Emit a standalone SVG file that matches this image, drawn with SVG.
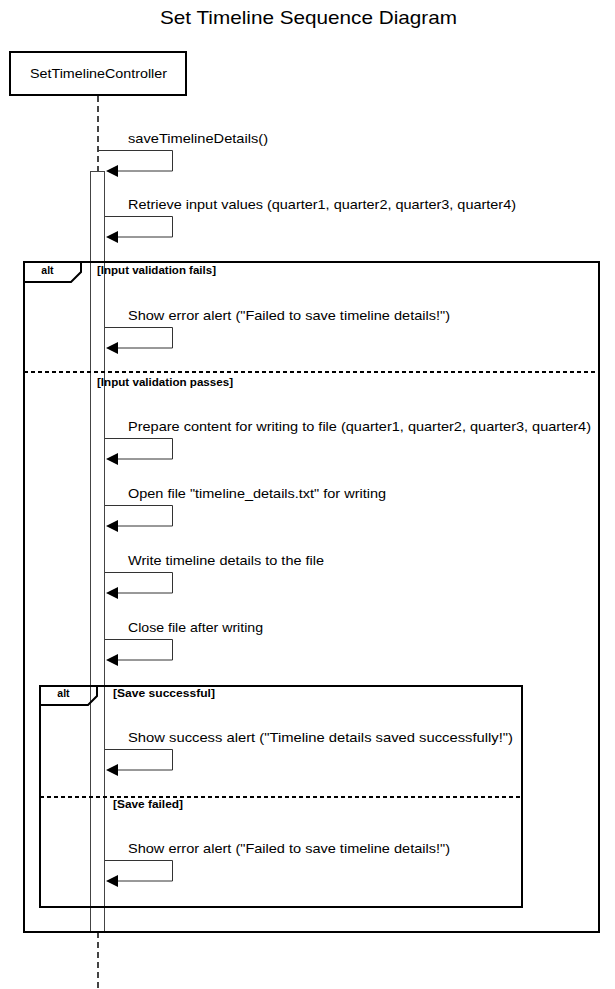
<svg xmlns="http://www.w3.org/2000/svg" width="615" height="989" viewBox="0 0 615 989">
<style>
.title{font-family:"Liberation Sans",Arial,sans-serif;font-size:19px;fill:#000}
.pname{font-family:"Liberation Sans",Arial,sans-serif;font-size:13px;fill:#000}
.msg{font-family:"Liberation Sans",Arial,sans-serif;font-size:13px;fill:#000}
.cond{font-family:"Liberation Sans",Arial,sans-serif;font-size:10.5px;font-weight:bold;fill:#000}
.frame{fill:none;stroke:#000;stroke-width:2}
.div{fill:none;stroke:#000;stroke-width:2;stroke-dasharray:4,3}
.life{fill:none;stroke:#444;stroke-width:2;stroke-dasharray:6,4}
.act{fill:none;stroke:#444;stroke-width:1}
.self{fill:none;stroke:#333;stroke-width:1}
</style>
<defs>
<marker id="arr" viewBox="0 0 12 12" refX="0" refY="6" markerWidth="12" markerHeight="12" markerUnits="userSpaceOnUse" orient="auto">
<path d="M0,0 L12,6 L0,12 Z" fill="#000"/>
</marker>
</defs>
<rect width="615" height="989" fill="#fff"/>
<text class="title" x="160" y="24" textLength="297" lengthAdjust="spacingAndGlyphs">Set Timeline Sequence Diagram</text>
<g id="SetTimelineController">
<rect x="10" y="52" width="176" height="43" fill="#fff" stroke="#000" stroke-width="2"/>
<text class="pname" x="30" y="78" textLength="137" lengthAdjust="spacingAndGlyphs">SetTimelineController</text>
<line class="life" x1="98" y1="96" x2="98" y2="171"/>
<line class="life" x1="98" y1="932" x2="98" y2="989"/>
<rect class="act" x="90.5" y="171.5" width="14" height="760.5"/>
</g>
<g id="alt-outer">
<rect class="frame" x="24" y="262" width="575" height="670"/>
<path class="frame" d="M24,282 L71,282 L81,272 L81,262"/>
<text class="cond" x="47.5" y="274" text-anchor="middle">alt</text>
<text class="cond" x="97" y="274" textLength="119" lengthAdjust="spacingAndGlyphs">[Input validation fails]</text>
<line class="div" x1="24" y1="372" x2="599" y2="372"/>
<text class="cond" x="97" y="386" textLength="136" lengthAdjust="spacingAndGlyphs">[Input validation passes]</text>
</g>
<g id="alt-inner">
<rect class="frame" x="40" y="686" width="482" height="221"/>
<path class="frame" d="M40,705 L88,705 L97,696 L97,686"/>
<text class="cond" x="63.5" y="697" text-anchor="middle">alt</text>
<text class="cond" x="113" y="697" textLength="102" lengthAdjust="spacingAndGlyphs">[Save successful]</text>
<line class="div" x1="40" y1="797" x2="522" y2="797"/>
<text class="cond" x="113" y="808" textLength="70" lengthAdjust="spacingAndGlyphs">[Save failed]</text>
</g>
<g id="connectors">
<path class="self" d="M98,150.5 H172.5 V171 H118" marker-end="url(#arr)"/>
<text class="msg" x="128" y="143" textLength="140" lengthAdjust="spacingAndGlyphs">saveTimelineDetails()</text>
<path class="self" d="M105,216.5 H172.5 V237 H118" marker-end="url(#arr)"/>
<text class="msg" x="128" y="209" textLength="388" lengthAdjust="spacingAndGlyphs">Retrieve input values (quarter1, quarter2, quarter3, quarter4)</text>
<path class="self" d="M105,327.5 H172.5 V348 H118" marker-end="url(#arr)"/>
<text class="msg" x="128" y="320" textLength="322" lengthAdjust="spacingAndGlyphs">Show error alert ("Failed to save timeline details!")</text>
<path class="self" d="M105,438.5 H172.5 V459 H118" marker-end="url(#arr)"/>
<text class="msg" x="128" y="431" textLength="463" lengthAdjust="spacingAndGlyphs">Prepare content for writing to file (quarter1, quarter2, quarter3, quarter4)</text>
<path class="self" d="M105,505.5 H172.5 V526 H118" marker-end="url(#arr)"/>
<text class="msg" x="128" y="498" textLength="258" lengthAdjust="spacingAndGlyphs">Open file "timeline_details.txt" for writing</text>
<path class="self" d="M105,572.5 H172.5 V593 H118" marker-end="url(#arr)"/>
<text class="msg" x="128" y="565" textLength="196" lengthAdjust="spacingAndGlyphs">Write timeline details to the file</text>
<path class="self" d="M105,639.5 H172.5 V660 H118" marker-end="url(#arr)"/>
<text class="msg" x="128" y="632" textLength="135" lengthAdjust="spacingAndGlyphs">Close file after writing</text>
<path class="self" d="M105,749.5 H172.5 V770 H118" marker-end="url(#arr)"/>
<text class="msg" x="128" y="742" textLength="385" lengthAdjust="spacingAndGlyphs">Show success alert ("Timeline details saved successfully!")</text>
<path class="self" d="M105,860.5 H172.5 V881 H118" marker-end="url(#arr)"/>
<text class="msg" x="128" y="853" textLength="322" lengthAdjust="spacingAndGlyphs">Show error alert ("Failed to save timeline details!")</text>
</g>
</svg>
